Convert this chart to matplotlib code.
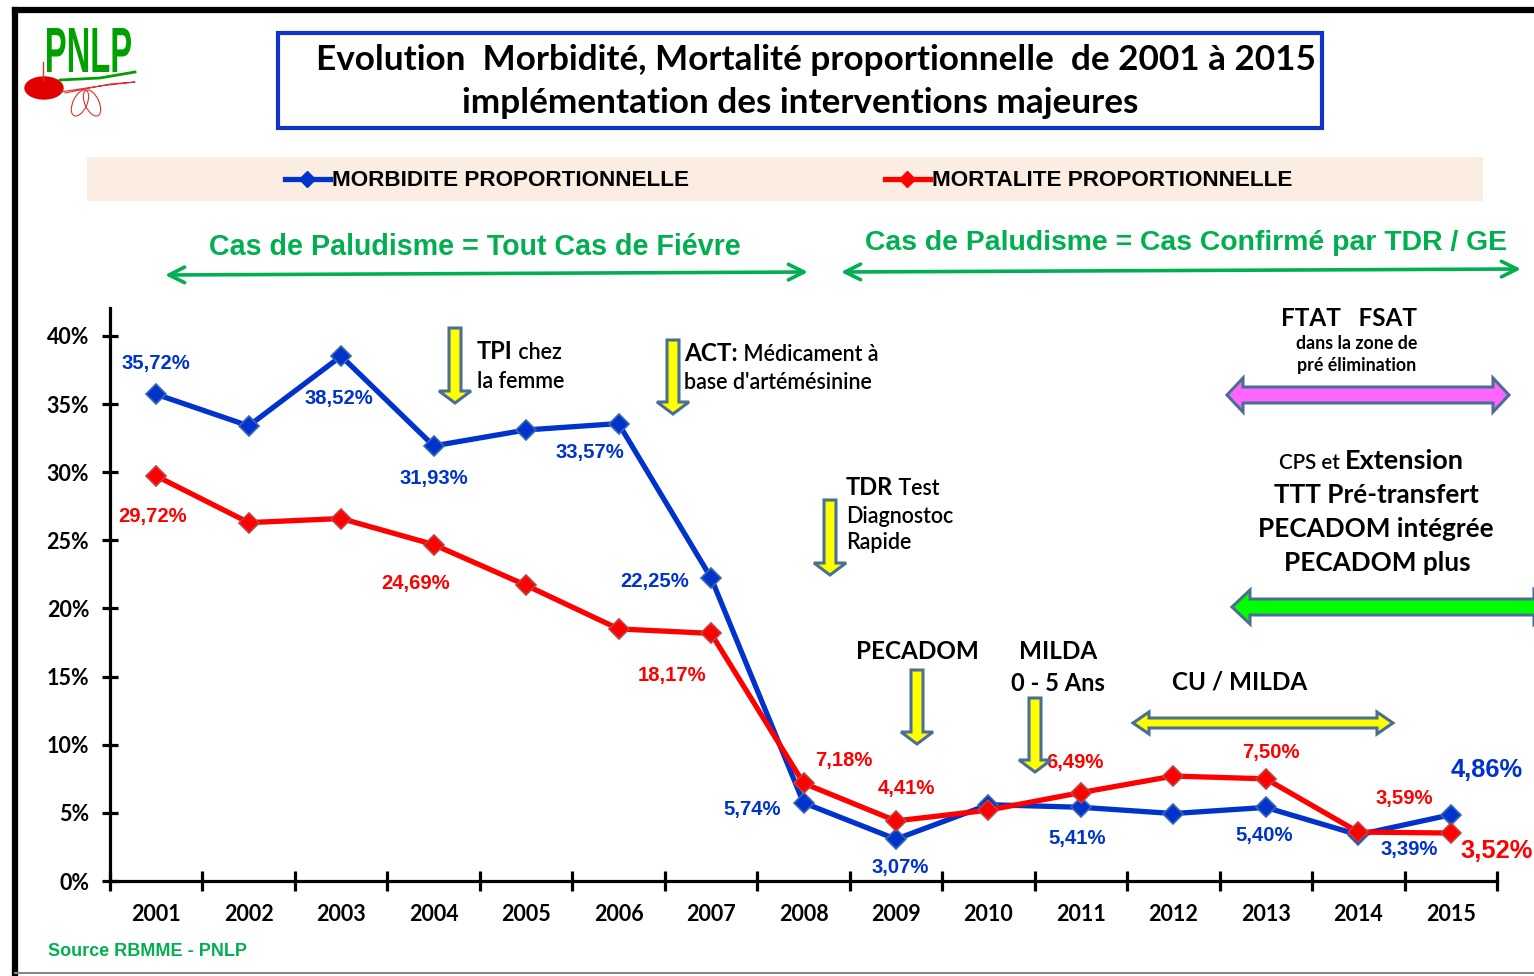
"""Evolution morbidite / mortalite proportionnelle 2001-2015 (PNLP)."""

import matplotlib

matplotlib.use("Agg")
import matplotlib.pyplot as plt
from matplotlib.font_manager import FontProperties, findfont
from matplotlib.patches import Ellipse, PathPatch, Polygon, Rectangle
from matplotlib.textpath import TextPath
from matplotlib.transforms import Affine2D

W, H = 1534, 976

years = ["2001", "2002", "2003", "2004", "2005", "2006", "2007", "2008",
         "2009", "2010", "2011", "2012", "2013", "2014", "2015"]
morbidite = [35.72, 33.4, 38.52, 31.93, 33.1, 33.57, 22.25, 5.74,
             3.07, 5.6, 5.41, 4.95, 5.40, 3.39, 4.86]
mortalite = [29.72, 26.3, 26.6, 24.69, 21.7, 18.5, 18.17, 7.18,
             4.41, 5.2, 6.49, 7.7, 7.50, 3.59, 3.52]
yticks = [0, 5, 10, 15, 20, 25, 30, 35, 40]

BLUE = "#0033cc"
RED = "#ff0000"
GREEN = "#00b050"


def pick(*names):
    for n in names:
        try:
            findfont(FontProperties(family=n), fallback_to_default=False)
            return n
        except Exception:
            continue
    return "DejaVu Sans"


SANS = pick("Lato", "Open Sans", "DejaVu Sans")
ARIAL = pick("Liberation Sans", "DejaVu Sans")

fig = plt.figure(figsize=(W / 100, H / 100), dpi=100)
fig.patch.set_facecolor("white")

# main chart, placed in pixel terms
ax = fig.add_axes([110 / W, 1 - 881 / H, (1497 - 110) / W, (881 - 308) / H])
ax.set_zorder(2)
ax.patch.set_alpha(0)
x = list(range(len(years)))
ax.plot(x, morbidite, color=BLUE, lw=3.8, marker="D", ms=10.5,
        mfc=BLUE, mec="#3a66b8", mew=1.2, zorder=3)
ax.plot(x, mortalite, color=RED, lw=3.8, marker="D", ms=10.5,
        mfc=RED, mec="#c04040", mew=1.2, zorder=4)
ax.set_xlim(-0.5, len(years) - 0.5)
ax.set_ylim(0, 42.05)
for s in ("top", "right"):
    ax.spines[s].set_visible(False)
for s in ("left", "bottom"):
    ax.spines[s].set_linewidth(2.3)
ax.set_yticks(yticks)
ax.set_yticklabels([f"{v}%" for v in yticks], fontsize=15.5,
                   fontweight="bold", family=SANS)
ax.tick_params(axis="y", direction="inout", length=12, width=2.3, pad=9)
ax.set_xticks(x)
ax.set_xticklabels(years, fontsize=15.5, fontweight="bold", family=SANS)
ax.set_xticks([i - 0.5 for i in range(len(years) + 1)], minor=True)
ax.tick_params(axis="x", which="major", length=0, pad=16.5)
ax.tick_params(axis="x", which="minor", direction="inout", length=14, width=2.3)


def fmt(v):
    return f"{v:.2f}".replace(".", ",") + "%"


morb_off = {0: (0, 31), 2: (-2, -42), 3: (0, -33), 5: (-29, -29), 6: (-56, -4),
            7: (-51, -7), 8: (4, -28), 10: (-4, -31), 12: (-2, -28),
            13: (51, -15), 14: (36, 45)}
mort_off = {0: (-4, -40), 3: (-18, -39), 6: (-39, -42), 7: (40, 23),
            8: (10, 32), 10: (-6, 30), 12: (5, 26), 13: (46, 34), 14: (46, -18)}
for vals, offs, col in ((morbidite, morb_off, BLUE), (mortalite, mort_off, RED)):
    for i, (dx, dy) in offs.items():
        big = i == len(years) - 1
        ax.annotate(fmt(vals[i]), (i, vals[i]), xytext=(dx, dy),
                    textcoords="offset pixels", ha="center", va="center",
                    color=col, fontsize=18.4 if big else 14.6, fontweight="bold",
                    family=ARIAL, zorder=6)

# overlay in pixel coordinates for the decorations
ov = fig.add_axes([0, 0, 1, 1])
ov.set_zorder(3)
ov.set_xlim(0, W)
ov.set_ylim(H, 0)
ov.axis("off")
ov.patch.set_alpha(0)

# outer frame
ov.plot([15, 15], [10, H], color="black", lw=4.5, solid_capstyle="projecting")
ov.plot([15, W], [10, 10], color="black", lw=4.5, solid_capstyle="projecting")
ov.plot([15, W], [973, 973], color="#888888", lw=1.5)

# logo
tp = TextPath((0, 0), "PNLP", prop=FontProperties(family=ARIAL, weight="bold"))
bb = tp.get_extents()
tr = Affine2D().translate(-bb.x0, -bb.y0).scale(84 / bb.width, -44 / bb.height).translate(47, 72)
ov.add_patch(PathPatch(tr.transform_path(tp), color="#00a000", lw=0))
ov.plot([60, 100, 135], [80, 78, 72], color="#00a000", lw=2)
ov.plot([60, 100, 135, 110, 65], [92, 86, 82, 84, 93], color="#e03030", lw=0.8)
ov.plot([43, 43], [62, 80], color="#e03030", lw=1)
ov.add_patch(Ellipse((80, 103), 14, 28, angle=25, fill=False, ec="#e03030", lw=0.8))
ov.add_patch(Ellipse((92, 103), 14, 28, angle=-25, fill=False, ec="#e03030", lw=0.8))
ov.add_patch(Ellipse((44, 88), 38, 22, color="#e00000"))

# title box
ov.add_patch(Rectangle((278, 33), 1044, 95, fill=False, ec="#1034c8", lw=3))
ov.text(816, 60, "Evolution  Morbidité, Mortalité proportionnelle  de 2001 à 2015",
        ha="center", va="center", fontsize=25.3, fontweight="bold", family=SANS)
ov.text(800, 103, "implémentation des interventions majeures",
        ha="center", va="center", fontsize=25.3, fontweight="bold", family=SANS)

# legend band
ov.add_patch(Rectangle((87, 157), 1396, 44, color="#fcede3", lw=0))
for x0, col, lab in ((285, BLUE, "MORBIDITE PROPORTIONNELLE"),
                     (885, RED, "MORTALITE PROPORTIONNELLE")):
    ov.plot([x0, x0 + 45], [179, 179], color=col, lw=3.8)
    ov.plot([x0 + 22], [179], marker="D", ms=8, color=col)
    ov.text(x0 + 47, 180, lab, ha="left", va="center", fontsize=16.2,
            fontweight="bold", family=ARIAL)

# case definitions
ov.text(475, 247, "Cas de Paludisme = Tout Cas de Fiévre", ha="center",
        va="center", color=GREEN, fontsize=20.6, fontweight="bold", family=ARIAL)
ov.text(1186, 243, "Cas de Paludisme = Cas Confirmé par TDR / GE", ha="center",
        va="center", color=GREEN, fontsize=20.4, fontweight="bold", family=ARIAL)
for (xa, ya), (xb, yb) in (((165, 275), (808, 272)), ((841, 272), (1521, 269))):
    ov.annotate("", xy=(xb, yb), xytext=(xa, ya),
                arrowprops=dict(arrowstyle="<->", color=GREEN, lw=2.6,
                                mutation_scale=28, shrinkA=0, shrinkB=0))

EDGE = "#4a6f96"


def down_arrow(cx, y0, y1, sw=6, hw=16, hl=12):
    pts = [(cx - sw, y0), (cx + sw, y0), (cx + sw, y1 - hl), (cx + hw, y1 - hl),
           (cx, y1), (cx - hw, y1 - hl), (cx - sw, y1 - hl)]
    ov.add_patch(Polygon(pts, closed=True, fc="#ffff00", ec=EDGE, lw=2.2))


def both_arrow(x0, x1, cy, sh, hh, hl, fc):
    pts = [(x0, cy), (x0 + hl, cy - hh), (x0 + hl, cy - sh), (x1 - hl, cy - sh),
           (x1 - hl, cy - hh), (x1, cy), (x1 - hl, cy + hh), (x1 - hl, cy + sh),
           (x0 + hl, cy + sh), (x0 + hl, cy + hh)]
    ov.add_patch(Polygon(pts, closed=True, fc=fc, ec=EDGE, lw=2.2))


down_arrow(455, 328, 403)
down_arrow(673, 340, 414)
down_arrow(830, 500, 575)
down_arrow(917, 670, 744)
down_arrow(1035, 698, 772)
both_arrow(1133, 1393, 723, 5, 11, 16, "#ffff00")
both_arrow(1227, 1509, 395, 8, 17, 16, "#ff66ff")
both_arrow(1232, 1552, 607, 8, 17, 18, "#00ff00")

renderer = fig.canvas.get_renderer()


def rich(xp, yp, parts, ha="left"):
    """Place text pieces of different size/weight side by side on a baseline."""
    items = []
    for s, sz, wt in parts:
        t = ov.text(0, yp, s, fontsize=sz, fontweight=wt, family=SANS,
                    va="baseline", ha="left")
        items.append((t, t.get_window_extent(renderer).width))
    total = sum(w for _, w in items)
    start = xp - total / 2 if ha == "center" else xp
    for t, w in items:
        t.set_x(start)
        start += w


rich(477, 359, [("TPI", 17, "bold"), (" chez", 15.5, "semibold")])
rich(477, 388, [("la femme", 15.5, "semibold")])
rich(684, 361, [("ACT:", 17.5, "bold"), (" Médicament à", 15.5, "semibold")])
rich(684, 389, [("base d'artémésinine", 15.5, "semibold")])
rich(846, 495, [("TDR", 17, "bold"), (" Test", 15.5, "semibold")])
rich(846, 523, [("Diagnostoc", 15.5, "semibold")])
rich(846, 549, [("Rapide", 15.5, "semibold")])
rich(917, 659, [("PECADOM", 17.5, "bold")], ha="center")
rich(1058, 659, [("MILDA", 17.5, "bold")], ha="center")
rich(1058, 691, [("0 - 5 Ans", 17, "bold")], ha="center")
rich(1240, 690, [("CU / MILDA", 17.5, "bold")], ha="center")
rich(1349, 326, [("FTAT   FSAT", 17.5, "bold")], ha="center")
rich(1357, 349, [("dans la zone de", 12.8, "bold")], ha="center")
rich(1357, 371, [("pré élimination", 12.8, "bold")], ha="center")
rich(1371, 469, [("CPS et ", 14.8, "semibold"), ("Extension", 19.5, "bold")], ha="center")
rich(1376, 503, [("TTT Pré-transfert", 18.8, "bold")], ha="center")
rich(1376, 537, [("PECADOM intégrée", 18.8, "bold")], ha="center")
rich(1377, 571, [("PECADOM plus", 18.8, "bold")], ha="center")

ov.text(48, 951, "Source RBMME - PNLP", ha="left", va="center", color=GREEN,
        fontsize=13, fontweight="bold", family=ARIAL)

fig.savefig("out.png", dpi=100)
